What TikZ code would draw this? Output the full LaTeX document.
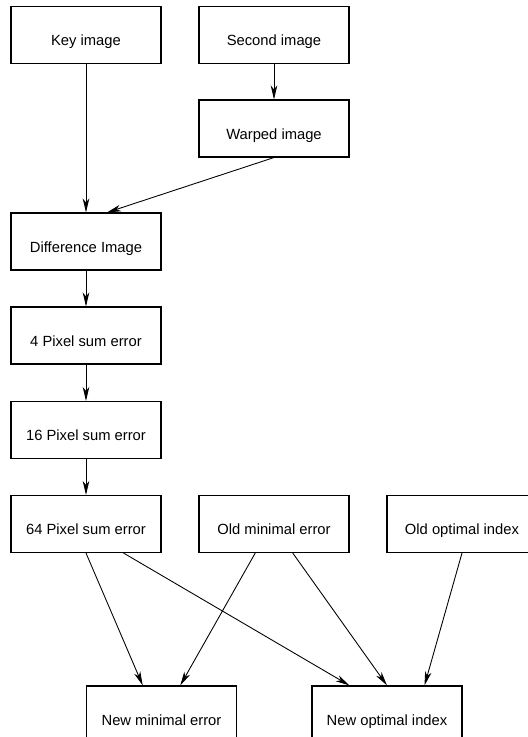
\documentclass[tikz,border=0pt]{standalone}
\usepackage{fontspec}
\setmainfont{Liberation Sans}
\usepackage{tikz}
\usetikzlibrary{arrows.meta,positioning,calc}
\tikzset{box/.style={draw, line width=0.6pt, minimum width=3cm, minimum height=1.14cm, text height=1.25em, text depth=0pt, font=\fontsize{8.4}{10}\selectfont}}
\tikzset{flow/.style={line width=0.5pt, -{Stealth[length=2.8mm,width=1.3mm,inset=0.8mm]}}}

\begin{document}
\begin{tikzpicture}
    \useasboundingbox (0,0) rectangle (10.56,-14.74);
    \clip (0,0) rectangle (10.56,-14.74);

    \node[box] at (1.72,-0.70) (key) {Key image};
    \node[box] at (5.48,-0.70) (second) {Second image};
    \node[box] at (5.48,-2.57) (warped) {Warped image};
    \node[box] at (1.72,-4.83) (diff) {Difference Image};

    \node[box] at (1.72,-6.71) (sum4) {4 Pixel sum error};
    \node[box] at (1.72,-8.60) (sum16) {16 Pixel sum error};
    \node[box] at (1.72,-10.48) (sum64) {64 Pixel sum error};
    \node[box] at (5.48,-10.48) (oldmin) {Old minimal error};
    \node[box] at (9.24,-10.48) (oldopt) {Old optimal index};

    \node[box] at (3.23,-14.29) (newmin) {New minimal error};
    \node[box] at (7.74,-14.29) (newopt) {New optimal index};

    \draw[flow] (key)-- (diff);
    \draw[flow] (second)-- (warped);
    \draw[flow] (warped.south)-- ([xshift=0.42cm]diff.north);
    \draw[flow] (diff)-- (sum4);
    \draw[flow] (sum4)-- (sum16);
    \draw[flow] (sum16)-- (sum64);

    \draw[flow] (sum64.south)-- ([xshift=-0.375cm]newmin.north);
    \draw[flow] ([xshift=0.75cm]sum64.south)-- ([xshift=-0.75cm]newopt.north);
    \draw[flow] ([xshift=-0.375cm]oldmin.south)-- ([xshift=0.375cm]newmin.north);
    \draw[flow] ([xshift=0.375cm]oldmin.south)-- (newopt.north);
    \draw[flow] (oldopt.south)-- ([xshift=0.75cm]newopt.north);
\end{tikzpicture}
\end{document}
